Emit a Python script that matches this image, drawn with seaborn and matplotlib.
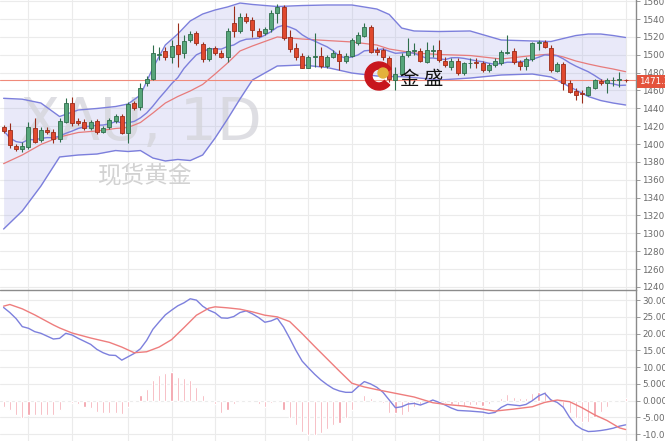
import numpy as np
import pandas as pd
import matplotlib
matplotlib.use("Agg")
import matplotlib.pyplot as plt
from matplotlib.transforms import Affine2D
from matplotlib.patches import Circle, Wedge
import seaborn as sns

# Spot gold (XAU) daily candles
opens = [1418.7, 1415.7, 1398.0, 1394.4, 1397.0, 1418.3, 1404.5, 1415.7, 1413.8, 1405.3,
         1425.0, 1446.3, 1426.1, 1425.0, 1417.6, 1426.0, 1413.8, 1419.4, 1426.0, 1431.4,
         1412.7, 1445.6, 1441.8, 1468.0, 1472.8, 1500.0, 1504.2, 1497.8, 1510.9, 1501.6,
         1516.5, 1524.0, 1512.0, 1494.9, 1507.2, 1502.3, 1497.8, 1535.2, 1526.6, 1542.6,
         1538.9, 1526.9, 1524.7, 1528.5, 1546.4, 1553.1, 1520.2, 1507.9, 1498.6, 1485.5,
         1497.1, 1498.6, 1487.4, 1497.8, 1500.5, 1493.0, 1498.6, 1513.5, 1521.0, 1530.7,
         1505.3, 1505.3, 1496.0, 1471.7, 1478.4, 1499.7, 1504.2, 1504.5, 1492.2, 1504.2,
         1505.3, 1493.3, 1486.6, 1493.0, 1479.9, 1490.4, 1491.1, 1491.1, 1482.9, 1488.5,
         1490.4, 1501.6, 1504.5, 1492.2, 1487.4, 1494.9, 1513.0, 1514.6, 1507.9, 1482.1,
         1489.6, 1468.0, 1459.7, 1457.0, 1454.9, 1462.4, 1470.9, 1468.0, 1471.2, 1471.7,
         1472.0]
highs = [1421.3, 1423.5, 1400.0, 1402.0, 1424.7, 1428.8, 1419.4, 1419.4, 1416.5, 1428.8,
         1451.2, 1452.3, 1429.1, 1428.0, 1427.0, 1428.0, 1420.0, 1429.0, 1434.0, 1434.0,
         1447.4, 1448.0, 1468.0, 1476.0, 1510.9, 1509.0, 1508.7, 1516.5, 1535.2, 1522.0,
         1526.6, 1526.6, 1514.6, 1509.0, 1509.8, 1505.3, 1529.6, 1554.6, 1546.4, 1546.4,
         1542.6, 1529.6, 1531.4, 1550.1, 1556.8, 1555.7, 1527.7, 1512.8, 1501.6, 1499.7,
         1524.0, 1509.0, 1499.7, 1505.3, 1505.3, 1501.6, 1518.4, 1525.8, 1535.2, 1533.3,
         1509.0, 1507.2, 1498.6, 1486.0, 1501.6, 1518.4, 1512.8, 1507.2, 1514.6, 1510.9,
         1516.5, 1497.8, 1496.0, 1496.0, 1492.2, 1496.0, 1496.0, 1493.0, 1490.4, 1496.0,
         1505.3, 1522.0, 1507.5, 1494.1, 1497.5, 1514.3, 1516.5, 1516.5, 1510.9, 1491.9,
         1492.2, 1471.7, 1462.4, 1460.5, 1465.0, 1472.8, 1472.8, 1473.9, 1475.4, 1481.0,
         1473.0]
lows = [1412.3, 1395.5, 1392.5, 1391.0, 1394.4, 1401.2, 1402.6, 1411.0, 1401.5, 1402.6,
        1423.2, 1420.2, 1421.3, 1416.0, 1416.0, 1411.0, 1412.0, 1417.0, 1424.0, 1411.0,
        1400.8, 1438.0, 1438.1, 1465.0, 1471.7, 1494.1, 1494.1, 1490.4, 1486.6, 1496.0,
        1514.3, 1510.9, 1492.2, 1493.0, 1499.7, 1496.0, 1492.2, 1520.2, 1524.0, 1535.2,
        1520.2, 1519.5, 1522.1, 1525.8, 1535.2, 1516.5, 1503.4, 1494.1, 1484.8, 1484.8,
        1486.6, 1484.8, 1484.8, 1496.0, 1482.9, 1490.4, 1497.1, 1510.9, 1520.2, 1501.6,
        1499.7, 1494.1, 1469.8, 1460.5, 1477.3, 1497.8, 1499.7, 1492.2, 1490.4, 1497.8,
        1492.2, 1486.6, 1482.9, 1477.3, 1477.3, 1484.8, 1484.8, 1481.0, 1480.7, 1486.6,
        1488.5, 1501.0, 1489.6, 1482.9, 1482.9, 1493.0, 1505.3, 1507.2, 1481.0, 1480.7,
        1460.5, 1456.8, 1449.3, 1445.6, 1453.8, 1461.6, 1466.1, 1456.8, 1465.0, 1464.2,
        1469.0]
closes = [1414.9, 1398.9, 1394.3, 1398.0, 1419.4, 1402.6, 1415.7, 1413.8, 1405.3, 1426.1,
          1445.6, 1423.9, 1423.9, 1417.6, 1425.0, 1413.8, 1417.6, 1426.9, 1431.4, 1412.7,
          1444.8, 1440.0, 1463.1, 1472.8, 1501.6, 1501.0, 1497.1, 1510.1, 1500.8, 1515.7,
          1523.6, 1513.5, 1494.9, 1507.2, 1502.3, 1497.8, 1526.9, 1526.6, 1542.6, 1538.1,
          1527.7, 1521.0, 1528.5, 1547.1, 1553.1, 1518.4, 1506.1, 1497.8, 1485.5, 1497.1,
          1498.6, 1487.4, 1497.8, 1501.6, 1493.3, 1498.6, 1516.5, 1522.1, 1530.7, 1503.4,
          1503.4, 1497.1, 1472.5, 1478.4, 1498.6, 1504.5, 1505.3, 1493.0, 1505.3, 1505.3,
          1494.1, 1488.5, 1493.0, 1479.9, 1490.4, 1491.1, 1491.0, 1482.9, 1488.5, 1493.3,
          1503.4, 1503.0, 1491.5, 1487.7, 1494.9, 1512.8, 1514.0, 1509.0, 1482.9, 1489.6,
          1468.0, 1458.6, 1454.9, 1456.0, 1463.5, 1471.7, 1468.0, 1471.7, 1471.7, 1471.9,
          1471.3]

# Bollinger band (20, 2)
band_idx = [0, 3, 6, 9, 12, 15, 18, 20, 22, 24, 26, 28, 30, 32, 34, 36, 38, 40, 44, 48,
            52, 56, 60, 62, 64, 66, 70, 75, 80, 85, 88, 90, 92, 94, 96, 98, 100]
band_upper = [1451.2, 1450.2, 1445.9, 1430.8, 1438.1, 1439.8, 1442.0, 1444.8, 1454.9, 1485.1,
              1510.9, 1523.2, 1537.8, 1545.6, 1550.1, 1553.5, 1557.9, 1556.3, 1554.0, 1555.1,
              1555.7, 1555.7, 1551.2, 1545.1, 1529.9, 1526.6, 1526.0, 1526.6, 1516.5, 1515.4,
              1514.8, 1518.2, 1521.5, 1523.2, 1523.2, 1521.5, 1519.3]
band_mid = [1378.0, 1387.7, 1399.5, 1407.9, 1412.9, 1414.6, 1417.4, 1418.5, 1424.1, 1434.7,
            1445.9, 1453.2, 1459.4, 1466.7, 1478.4, 1490.7, 1504.2, 1509.8, 1519.9, 1517.6,
            1515.9, 1514.3, 1510.9, 1506.4, 1504.2, 1501.9, 1500.3, 1499.1, 1495.2, 1499.1,
            1500.8, 1497.5, 1493.0, 1489.6, 1486.6, 1484.0, 1481.0]
band_lower = [1304.8, 1325.0, 1353.0, 1385.5, 1387.7, 1388.8, 1392.7, 1391.6, 1392.7, 1384.3,
              1381.0, 1382.7, 1381.5, 1387.7, 1406.7, 1428.0, 1450.4, 1471.7, 1487.4, 1488.5,
              1485.7, 1479.5, 1476.2, 1475.6, 1475.4, 1474.5, 1471.7, 1473.9, 1477.3, 1478.4,
              1475.1, 1467.8, 1460.5, 1453.2, 1448.7, 1445.9, 1443.7]

# MACD (12, 26, 9)
macd_idx = [0, 1, 2, 3, 4, 5, 6, 8, 9, 10, 11, 12, 14, 15, 16, 17, 18, 19, 20, 21,
            22, 23, 24, 25, 26, 27, 28, 29, 30, 31, 32, 33, 34, 35, 36, 37, 38, 39, 40, 41,
            42, 43, 44, 45, 46, 47, 48, 49, 50, 51, 52, 53, 54, 55, 56, 57, 58, 59, 60, 61,
            62, 63, 64, 65, 66, 67, 68, 69, 70, 71, 72, 73, 75, 77, 78, 79, 80, 81, 82, 83,
            84, 85, 86, 87, 88, 89, 90, 91, 92, 93, 94, 95, 96, 97, 98, 99, 100]
macd_vals = [27.8, 26.3, 24.5, 22.1, 21.6, 20.6, 20.1, 18.4, 18.6, 20.1, 19.6, 18.6, 16.8, 15.3,
             14.3, 13.6, 13.5, 12.1, 13.1, 14.1, 15.5, 18.0, 21.3, 23.5, 25.6, 27.0, 28.3, 29.2,
             30.4, 30.0, 28.2, 27.0, 26.2, 24.7, 24.6, 25.1, 26.3, 26.8, 25.9, 24.8, 23.4, 23.8,
             24.6, 22.0, 18.6, 15.0, 11.8, 9.8, 7.9, 6.2, 4.8, 3.6, 2.9, 2.5, 2.5, 4.2, 5.7,
             5.0, 4.0, 2.5, 0.2, -2.1, -1.8, -1.0, -0.8, -1.3, -0.6, 0.2, -0.5, -1.3, -2.2, -2.9,
             -3.1, -3.4, -3.8, -3.5, -2.0, -1.1, -1.3, -1.5, -1.1, 0.0, 1.4, 2.2, 0.2, -0.5,
             -2.0, -5.0, -7.3, -8.5, -9.2, -9.1, -8.9, -8.6, -8.2, -7.6, -7.2]
signal_idx = [0, 1, 3, 5, 8, 9, 11, 14, 17, 19, 21, 23, 25, 27, 29, 31, 33, 34, 36, 38,
              40, 42, 44, 46, 48, 50, 52, 54, 56, 58, 60, 63, 66, 69, 71, 74, 77, 79, 82, 85,
              87, 89, 91, 93, 95, 97, 99, 100]
signal_vals = [28.2, 28.7, 27.4, 25.6, 22.6, 21.7, 20.2, 18.7, 17.4, 16.0, 14.3, 14.6, 16.0,
               18.2, 21.8, 25.5, 27.6, 28.0, 27.7, 27.3, 26.5, 25.5, 25.0, 23.6, 20.0, 16.2,
               12.5, 8.8, 5.2, 4.1, 3.3, 2.2, 1.1, -0.6, -1.1, -1.6, -2.5, -3.1, -2.5, -1.8,
               -0.5, 0.2, -0.3, -2.1, -4.2, -5.9, -8.1, -8.6]
hist_vals = [-1.8, -2.8, -4.3, -5.3, -4.3, -4.3, -4.3, -4.3, -4.3, -2.8,
             -0.5, -0.8, -1.1, -1.8, -2.1, -3.3, -3.8, -3.8, -3.8, -4.1,
             -1.8, -0.5, 1.7, 3.5, 6.2, 7.7, 8.2, 8.5, 7.2, 6.7,
             6.2, 4.2, 1.7, -0.3, -1.1, -3.8, -2.8, -1.1, -0.3, -0.5,
             -0.3, -1.1, -1.8, -0.8, -0.5, -2.8, -5.3, -7.3, -9.3, -10.2,
             -10.2, -9.7, -8.5, -7.3, -6.7, -5.3, -2.8, -0.3, 1.6, 0.8,
             0.2, -0.8, -3.8, -3.8, -4.3, -3.3, -1.8, -1.3, -0.5, 0.2,
             -0.5, -0.8, -1.1, -1.3, -1.5, -1.3, -1.3, -1.5, -1.1, -0.5,
             0.9, 1.9, 1.2, 0.7, 0.9, 2.2, 2.7, 2.9, 0.7, -0.3,
             -2.3, -3.8, -5.3, -6.5, -6.3, -4.8, -3.5, -1.8, -0.5, 0.0,
             0.7]

last_price = 1471.30
price_ticks = list(range(1240, 1561, 20))
macd_ticks = list(range(-10, 31, 5))
grid_days = [4, 11, 20, 27, 34, 42, 49, 56, 63, 70, 77, 86, 93, 100]

W, H = 665, 441
sns.set_theme(style="white")
plt.rcParams['font.family'] = ['DejaVu Sans', 'Noto Sans CJK SC']

fig = plt.figure(figsize=(W / 100, H / 100), dpi=100)
fig.patch.set_facecolor('white')
ax = fig.add_axes([0, 151 / H, 636 / W, 290 / H])
axm = fig.add_axes([0, 0, 636 / W, 151 / H])
# figure pixel coordinates, origin top-left
pix = Affine2D().scale(1, -1).translate(0, H)

n = len(closes)
x = np.arange(n)
o = np.array(opens); c = np.array(closes)
hi = np.array(highs); lo = np.array(lows)
rising = c >= o

GREEN, GREEN_E = '#57a67b', '#2f6e4c'
RED, RED_E = '#e0482e', '#9a2d1b'
BAND = '#7c7fdc'
MID = '#e77b7b'

# ---- price panel ----
bands = pd.DataFrame({'day': band_idx, 'upper': band_upper, 'mid': band_mid, 'lower': band_lower})
ax.fill_between(bands['day'], bands['lower'], bands['upper'], color='#a3a6e6', alpha=0.24,
                lw=0, zorder=1)
sns.lineplot(data=bands, x='day', y='upper', ax=ax, color=BAND, lw=1.0, zorder=2)
sns.lineplot(data=bands, x='day', y='lower', ax=ax, color=BAND, lw=1.0, zorder=2)
sns.lineplot(data=bands, x='day', y='mid', ax=ax, color=MID, lw=0.9, zorder=2)

ma10 = pd.Series(closes).rolling(10, min_periods=1).mean()
sns.lineplot(x=x, y=ma10, ax=ax, color=BAND, lw=1.0, zorder=2)

ax.axhline(last_price, color='#f08a7a', lw=0.8, zorder=2.5)

face = np.where(rising, GREEN, RED)
edge = np.where(rising, GREEN_E, RED_E)
ax.vlines(x, lo, hi, colors=edge, lw=0.8, zorder=3)
body_lo = np.minimum(o, c)
body_h = np.maximum(np.abs(c - o), 0.7)
ax.bar(x, body_h, bottom=body_lo, width=0.64, color=face, edgecolor=edge, lw=0.6, zorder=4)

ax.set_xlim(-0.58, 101.67)
ax.set_ylim(1236.5, 1561.3)

# ---- MACD panel ----
axm.bar(x, hist_vals, width=0.34, color='#f29aa3', zorder=2)
sns.lineplot(x=macd_idx, y=macd_vals, ax=axm, color='#7d80dd', lw=1.0, zorder=3)
sns.lineplot(x=signal_idx, y=signal_vals, ax=axm, color='#ee7d7d', lw=1.0, zorder=3)
axm.set_xlim(-0.58, 101.67)
axm.set_ylim(-12.02, 33.02)

for a, ticks, fmt in ((ax, price_ticks, '{:.2f}'), (axm, macd_ticks, '{:.4f}')):
    a.set_facecolor('white')
    a.set_xlabel(''); a.set_ylabel('')
    a.set_yticks(ticks)
    a.set_yticklabels([fmt.format(t) for t in ticks])
    a.set_xticks(grid_days)
    a.set_xticklabels([])
    a.yaxis.tick_right()
    a.tick_params(axis='y', direction='out', length=3, width=0.6, color='#8a8a8a',
                  labelsize=6.3, labelcolor='#6a6a6a', pad=1.5)
    a.tick_params(axis='x', length=0)
    a.grid(True, color='#ebebeb', lw=0.8)
    a.set_axisbelow(True)
    for s in ('left', 'top', 'bottom'):
        a.spines[s].set_visible(False)
    a.spines['right'].set_color('#8a8a8a')
    a.spines['right'].set_linewidth(1.0)
    if a.get_legend():
        a.get_legend().remove()

# divider between the two panels
fig.add_artist(plt.Line2D([0, 636], [290, 290], transform=pix, color='#8c8c8c', lw=1.0))

# last price tag
ax.annotate(f'{last_price:.2f}', xy=(1.0, last_price), xycoords=('axes fraction', 'data'),
            xytext=(2, -1), textcoords='offset points', ha='left', va='center',
            fontsize=6.3, color='white', annotation_clip=False,
            bbox=dict(boxstyle='square,pad=0.2', fc='#e4533c', ec='none'))

# watermarks
ax.text(20, 140, 'XAU, 1D', transform=pix, fontsize=42, color='#d4d4da', alpha=0.75,
        ha='left', va='baseline', zorder=1.5)
ax.text(98, 182, '现货黄金', transform=pix, fontsize=17, color='#d2d2d2',
        family=['Noto Sans CJK SC'], ha='left', va='baseline', zorder=1.5)

# brand mark: red crescent holding a gold bead
ax.add_patch(Wedge((379, 76), 14, 40, 330, width=7, transform=pix, color='#c8161d',
                   zorder=6, clip_on=False))
ax.add_patch(Circle((383, 73), 5, transform=pix, color='#e3b23c', zorder=6.2, clip_on=False))
ax.text(400, 85, '金 盛', transform=pix, fontsize=14, color='#111111',
        family=['Noto Sans CJK SC'], ha='left', va='baseline', zorder=6.3)

fig.savefig('out.png', dpi=100, facecolor='white')
